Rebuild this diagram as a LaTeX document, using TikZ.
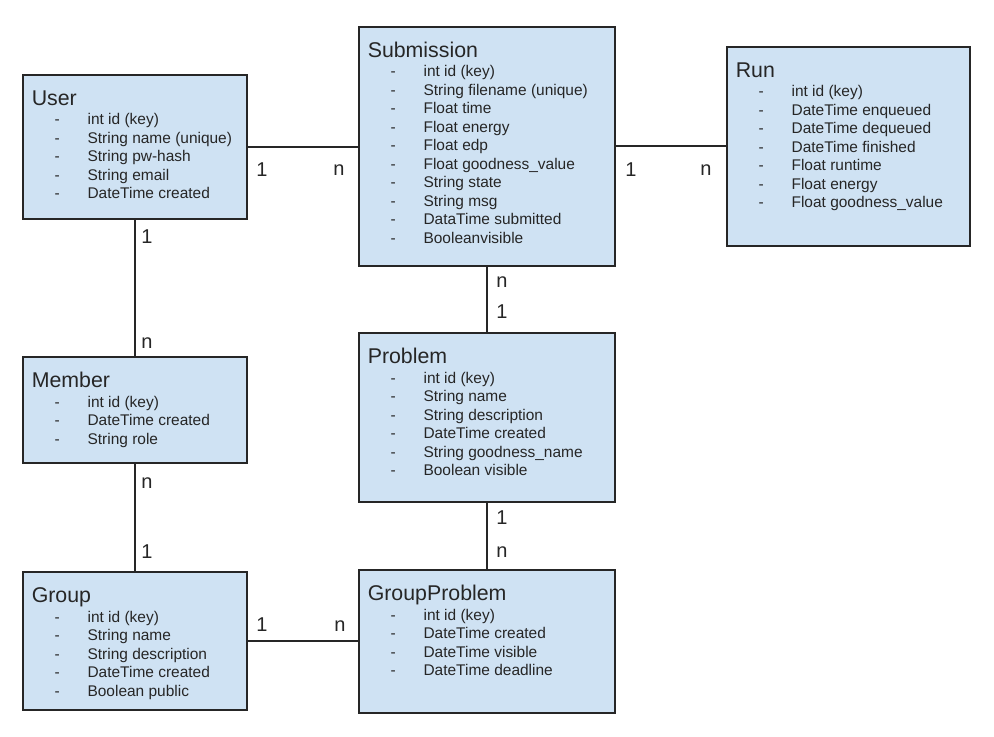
\documentclass[tikz,border=0pt]{standalone}
\usepackage{fontspec}
\setmainfont{Liberation Sans}
\definecolor{boxblue}{HTML}{CFE2F3}
\definecolor{ink}{HTML}{262626}
\tikzset{
  entity/.style={draw=ink, fill=boxblue, line width=1.5pt, anchor=north west, inner sep=0pt},
  etitle/.style={anchor=base west, inner sep=0pt, text=ink, font=\fontsize{16}{19}\selectfont},
  field/.style={anchor=base west, inner sep=0pt, text=ink, font=\fontsize{11.6}{14}\selectfont},
  card/.style={inner sep=0pt, text=ink, font=\fontsize{15}{18}\selectfont},
  link/.style={draw=ink, line width=1.5pt}
}
\begin{document}
\begin{tikzpicture}[x=0.75pt, y=-0.75pt]
  \fill[white] (0,0) rectangle (994,737);
  \useasboundingbox (0,0) rectangle (994,737);
  % User
  \node[entity, minimum width=168pt, minimum height=108pt] (user) at (22,74) {};
  \node[etitle] (user-title) at ([shift={(9.5,31.5)}]user.north west) {User};
  \foreach \f [count=\i] in {int id (key), String name (unique), String pw-hash, String email, DateTime created}
    \node[field] (user-\i) at ([shift={(32.3,{32.5+18.5*\i})}]user.north west) {-\hspace{20.9pt}\f};
  % Submission
  \node[entity, minimum width=192pt, minimum height=179.25pt] (submission) at (358,26) {};
  \node[etitle] (submission-title) at ([shift={(9.5,31.5)}]submission.north west) {Submission};
  \foreach \f [count=\i] in {int id (key), String filename (unique), Float time, Float energy, Float edp, Float goodness\_value, String state, String msg, DataTime submitted, Booleanvisible}
    \node[field] (submission-\i) at ([shift={(32.3,{32.5+18.5*\i})}]submission.north west) {-\hspace{20.9pt}\f};
  % Run
  \node[entity, minimum width=182.25pt, minimum height=149.25pt] (run) at (726,46) {};
  \node[etitle] (run-title) at ([shift={(9.5,31.5)}]run.north west) {Run};
  \foreach \f [count=\i] in {int id (key), DateTime enqueued, DateTime dequeued, DateTime finished, Float runtime, Float energy, Float goodness\_value}
    \node[field] (run-\i) at ([shift={(32.3,{32.5+18.5*\i})}]run.north west) {-\hspace{20.9pt}\f};
  % Member
  \node[entity, minimum width=168pt, minimum height=79.5pt] (member) at (22,356) {};
  \node[etitle] (member-title) at ([shift={(9.5,31.5)}]member.north west) {Member};
  \foreach \f [count=\i] in {int id (key), DateTime created, String role}
    \node[field] (member-\i) at ([shift={(32.3,{32.5+18.5*\i})}]member.north west) {-\hspace{20.9pt}\f};
  % Problem
  \node[entity, minimum width=192pt, minimum height=126.75pt] (problem) at (358,332) {};
  \node[etitle] (problem-title) at ([shift={(9.5,31.5)}]problem.north west) {Problem};
  \foreach \f [count=\i] in {int id (key), String name, String description, DateTime created, String goodness\_name, Boolean visible}
    \node[field] (problem-\i) at ([shift={(32.3,{32.5+18.5*\i})}]problem.north west) {-\hspace{20.9pt}\f};
  % Group
  \node[entity, minimum width=168pt, minimum height=103.5pt] (group) at (22,571) {};
  \node[etitle] (group-title) at ([shift={(9.5,31.5)}]group.north west) {Group};
  \foreach \f [count=\i] in {int id (key), String name, String description, DateTime created, Boolean public}
    \node[field] (group-\i) at ([shift={(32.3,{32.5+18.5*\i})}]group.north west) {-\hspace{20.9pt}\f};
  % GroupProblem
  \node[entity, minimum width=192pt, minimum height=107.25pt] (groupproblem) at (358,569) {};
  \node[etitle] (groupproblem-title) at ([shift={(9.5,31.5)}]groupproblem.north west) {GroupProblem};
  \foreach \f [count=\i] in {int id (key), DateTime created, DateTime visible, DateTime deadline}
    \node[field] (groupproblem-\i) at ([shift={(32.3,{32.5+18.5*\i})}]groupproblem.north west) {-\hspace{20.9pt}\f};
  % relations
  \draw[link] (user.east) -- (user.east -| submission.west);
  \draw[link] (submission.east) -- (submission.east -| run.west);
  \draw[link] (user.south) -- (user.south |- member.north);
  \draw[link] (member.south) -- (member.south |- group.north);
  \draw[link] (submission.south) -- (submission.south |- problem.north);
  \draw[link] (problem.south) -- (problem.south |- groupproblem.north);
  \draw[link] (group.east) -- (group.east -| groupproblem.west);
  % cardinalities
  \node[card] (us-1) at (262,170) {1};
  \node[card] (us-n) at (339,170) {n};
  \node[card] (sr-1) at (631,170) {1};
  \node[card] (sr-n) at (706,170) {n};
  \node[card] (um-1) at (147,237) {1};
  \node[card] (um-n) at (147,343) {n};
  \node[card] (mg-n) at (147,483) {n};
  \node[card] (mg-1) at (147,552) {1};
  \node[card] (sp-n) at (502,282) {n};
  \node[card] (sp-1) at (502,312) {1};
  \node[card] (pg-1) at (502,518) {1};
  \node[card] (pg-n) at (502,552) {n};
  \node[card] (gg-1) at (262,625) {1};
  \node[card] (gg-n) at (340,626) {n};
\end{tikzpicture}
\end{document}
